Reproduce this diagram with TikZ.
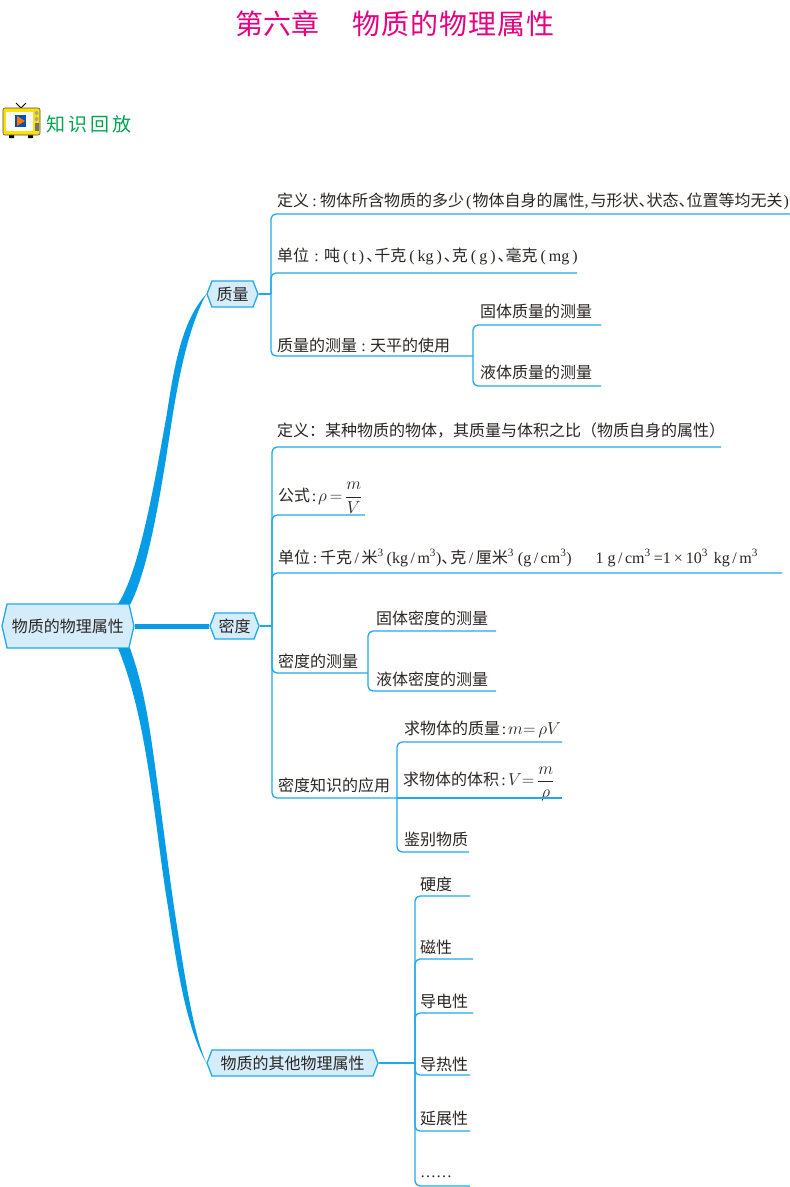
\documentclass[tikz,border=0pt]{standalone}
\usepackage{fontspec}
\usepackage{amsmath}
\setmainfont{Noto Sans CJK SC}
\newfontfamily\latinfont{Liberation Serif}
\usetikzlibrary{shapes.symbols}

\definecolor{linecol}{HTML}{1FA9EA}
\definecolor{thickcol}{HTML}{069DE6}
\definecolor{boxcol}{HTML}{D5ECFA}
\definecolor{textcol}{HTML}{2A2523}
\definecolor{titlecol}{HTML}{E5007F}
\definecolor{greencol}{HTML}{00A54F}

% half width punctuation
\newcommand{\dun}{\makebox[8pt][l]{、}}
\newcommand{\mao}[1][11pt]{\makebox[#1][c]{\latinfont :}}
\newcommand{\lat}[1]{{\latinfont #1}}
\newcommand{\sqr}{\textsuperscript{\latinfont 3}}
\newcommand{\pr}[1]{{\latinfont\hspace{3pt}(\hspace{3pt}#1\hspace{3pt})\hspace{2pt}}}
\newcommand{\sla}{{\latinfont\hspace{2.5pt}/\hspace{2.5pt}}}
% full width punctuation
\newcommand{\fmao}{\symbol{"FF1A}}
\newcommand{\fdou}{\symbol{"FF0C}}
\newcommand{\fzuo}{\symbol{"FF08}}
\newcommand{\fyou}{\symbol{"FF09}}

\begin{document}
\begin{tikzpicture}[x=1pt,y=-1pt,font=\fontsize{16}{18}\selectfont,text=textcol]
  \tikzstyle{leaf}=[anchor=west,inner sep=0pt,yshift=-1pt]
  \tikzstyle{hub}=[draw=linecol,fill=boxcol,line width=1.3pt,shape=signal,
                   signal to=east and west,signal pointer angle=138,
                   inner xsep=0pt,inner ysep=0pt,minimum height=26pt]
  \tikzstyle{line}=[draw=linecol,line width=1.3pt,rounded corners=5pt]
  \tikzstyle{tee}=[draw=linecol,line width=1.3pt,sharp corners]
  \tikzstyle{thick branch}=[fill=thickcol,draw=none]

  \useasboundingbox (0,0) rectangle (790,1187);

  \node (title) at (395,24) {\fontsize{28}{30}\selectfont\color{titlecol}第六章\hspace{33pt}物\hspace{1pt}质\hspace{1pt}的\hspace{1pt}物\hspace{1pt}理\hspace{1pt}属\hspace{1pt}性};
  \node[leaf] (review) at (46,123) {\fontsize{19}{22}\selectfont\color{greencol}知\hspace{3pt}识\hspace{3pt}回\hspace{3pt}放};

  % tv icon
  \fill[black] (9,134) rectangle (14,138) (28,134) rectangle (33,138);
  \draw[black,line width=.8pt] (21,108) -- (16,103) (21,108) -- (26,103);
  \filldraw[draw=black!70,fill=yellow!85!orange,line width=.6pt,rounded corners=2pt] (3,108) rectangle (40,135);
  \fill[white] (6,112) rectangle (33,131);
  \fill[blue!55!cyan!70!black] (15,115) rectangle (26,127);
  \fill[orange!90!red] (17,116) -- (25,121) -- (17,126) -- cycle;
  \fill[black!35] (36.5,113) circle (2pt) (36.5,119) circle (2pt);
  \fill[black!55] (34.5,123) rectangle (38.5,131);

  % hubs
  \node[hub,minimum width=132pt,minimum height=44pt,signal pointer angle=154] (root) at (68,626) {物质的物理属性};
  \node[hub,minimum width=51pt] (zhiliang) at (232.5,294) {质量};
  \node[hub,minimum width=49pt] (midu) at (234.5,626) {密度};
  \node[hub,minimum width=171pt] (qita) at (292.5,1063) {物质的其他物理属性};

  % thick branches
  \coordinate (rootup) at (118,604);
  \coordinate (rootupr) at (130.5,604);
  \coordinate (rootdown) at (118,648);
  \coordinate (rootdownr) at (130,648);
  \fill[thick branch] (rootup) .. controls (140,570) and (155,480) .. (167,413)
        .. controls (175,360) and (183,320) .. (zhiliang.west)
        .. controls (190,325) and (181,365) .. (173,413)
        .. controls (162,485) and (150,565) .. (rootupr) -- cycle;
  \fill[thick branch] (rootdown) .. controls (135,690) and (143,735) .. (149,773)
        .. controls (157,825) and (161,865) .. (168,907)
        .. controls (176,960) and (185,1025) .. (qita.west)
        .. controls (192,1030) and (183,965) .. (174,907)
        .. controls (168,865) and (163,825) .. (156,773)
        .. controls (150,730) and (145,690) .. (rootdownr) -- cycle;
  \draw[thickcol,line width=5pt] (root.east) -- (midu.west);

  % mass
  \node[leaf] (zl1) at (277,200) {定义\mao 物体所含物质的多少\lat{\hspace{2pt}(\hspace{1pt}}物体自身的属性\lat{,\hspace{2pt}}与形状\dun 状态\dun 位置等均无关\lat{\hspace{1pt})}};
  \node[leaf] (zl2) at (277,255) {单位\mao[15pt]吨\pr{t}\dun 千克\pr{kg}\dun 克\pr{g}\dun 毫克\pr{mg}};
  \node[leaf] (zl3) at (277,344) {质量的测量\mao[13pt]天平的使用};
  \node[leaf] (zl3a) at (480,310) {固体质量的测量};
  \node[leaf] (zl3b) at (480,371) {液体质量的测量};
  \coordinate (zs) at (271,294);
  \coordinate (zs3) at (473,356);
  \coordinate (zu1) at (790,214);
  \coordinate (zu2) at (577,273);
  \coordinate (zu3a) at (601,325);
  \coordinate (zu3b) at (601,386);
  \draw[tee] (zhiliang.east) -| (zs);
  \draw[line] (zu1) -| (zs) |- (zs3);
  \draw[line] (zu2) -| (zs);
  \draw[line] (zu3a) -| (zs3) |- (zu3b);

  % density
  \node[leaf] (md1) at (277,429) {定义\fmao 某种物质的物体\fdou 其质量与体积之比\fzuo 物质自身的属性\fyou};
  \node[leaf] (md2) at (278,497) {公式\mao[8pt]$\rho\,{=}\,\dfrac{m}{V}$};
  \node[leaf] (md3) at (278,557) {单位\mao[10pt]千克\sla 米\sqr\lat{\hspace{3pt}(kg\sla m\sqr)}\dun\hspace{1pt}克\sla 厘米\sqr\lat{\hspace{4pt}(g\sla cm\sqr)\hspace{24pt}1\hspace{4pt}g\sla cm\sqr\hspace{3pt}=1\hspace{3pt}×\hspace{3pt}10\sqr\hspace{6pt}kg\sla m\sqr}};
  \node[leaf] (md4) at (278,660) {密度的测量};
  \node[leaf] (md4a) at (376,617) {固体密度的测量};
  \node[leaf] (md4b) at (376,678) {液体密度的测量};
  \node[leaf] (md5) at (278,784) {密度知识的应用};
  \node[leaf] (md5a) at (404,728) {求物体的质量\mao[8pt]$m{=}\,\rho V$};
  \node[leaf] (md5b) at (403,783) {求物体的体积\mao[9pt]$V{=}\,\dfrac{m}{\rho}$};
  \node[leaf] (md5c) at (404,838) {鉴别物质};
  \coordinate (ms) at (272,626);
  \coordinate (ms4) at (368,673);
  \coordinate (ms5) at (397,798);
  \coordinate (mu1) at (721,447);
  \coordinate (mu2) at (365,515);
  \coordinate (mu3) at (782,573);
  \coordinate (mu4a) at (496,631);
  \coordinate (mu4b) at (496,691);
  \coordinate (mu5a) at (562,742);
  \coordinate (mu5b) at (562,798);
  \coordinate (mu5c) at (469,852);
  \draw[tee] (midu.east) -| (ms);
  \draw[line] (mu1) -| (ms) |- (ms5);
  \draw[line] (mu2) -| (ms);
  \draw[line] (mu3) -| (ms);
  \draw[line] (ms4) -| (ms);
  \draw[line] (mu4a) -| (ms4) |- (mu4b);
  \draw[line] (mu5a) -| (ms5) |- (mu5c);
  \draw[tee] (mu5b) -| (ms5);

  % other properties
  \node[leaf] (qt1) at (420,883) {硬度};
  \node[leaf] (qt2) at (420,946) {磁性};
  \node[leaf] (qt3) at (420,1000) {导电性};
  \node[leaf] (qt4) at (420,1063) {导热性};
  \node[leaf] (qt5) at (420,1117) {延展性};
  \node[leaf] (qt6) at (420,1176) {\lat{……}};
  \coordinate (qs) at (415,1063);
  \coordinate (qu1) at (470,896);
  \coordinate (qu2) at (473,959);
  \coordinate (qu3) at (473,1013);
  \coordinate (qu4) at (470,1075);
  \coordinate (qu5) at (470,1131);
  \coordinate (qu6) at (470,1186);
  \draw[tee] (qita.east) -| (qs);
  \draw[line] (qu1) -| (qs) |- (qu6);
  \foreach \u in {qu2,qu3,qu4,qu5}
    \draw[line] (\u) -| (qs);

\end{tikzpicture}
\end{document}
